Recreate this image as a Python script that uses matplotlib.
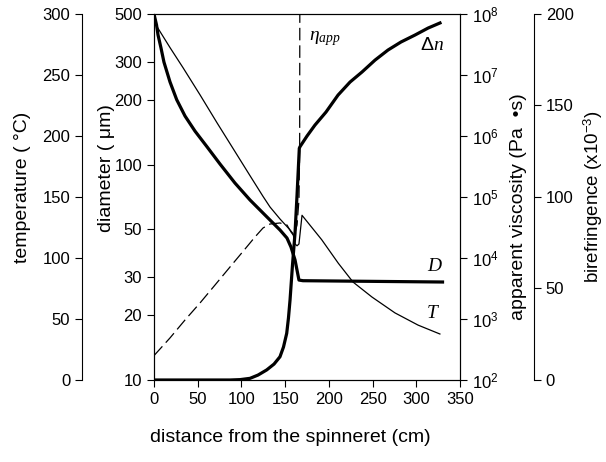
import numpy as np
import matplotlib
matplotlib.use("Agg")
import matplotlib.pyplot as plt
from matplotlib.ticker import NullLocator, FixedLocator, FixedFormatter, LogFormatterMathtext

plt.rcParams['font.family'] = ['Liberation Sans', 'DejaVu Sans']
plt.rcParams['mathtext.fontset'] = 'custom'
plt.rcParams['mathtext.rm'] = 'Liberation Sans'
plt.rcParams['mathtext.it'] = 'Liberation Serif:italic'

# diameter D (um)
dist_D = [0, 2.9, 4.6, 8.0, 11.4, 18.3, 26.0, 35.5, 46.9, 60.6, 75.5, 92.6, 109.8,
          127, 144.1, 152.1, 156.7, 161.3, 165.8, 170.4, 250, 330]
diam = [500, 445, 400, 348, 299, 242, 200, 168, 143, 121, 100.6, 82.1, 68.5,
        58.3, 49.7, 45.6, 41.4, 36.1, 29.1, 28.9, 28.7, 28.5]

# temperature T (C)
dist_T = [0, 3.1, 18.3, 33.2, 52.6, 72.1, 90.4, 109.8, 124.7, 132.7, 144.1, 155.6,
          159, 161.3, 163.6, 165.8, 169.3, 191.8, 210.8, 227.6, 249.3, 275.6, 302, 327]
temp = [297, 290, 272.5, 256, 233.8, 210.8, 189.8, 167.5, 150.5, 141.8, 132, 123,
        120, 111.5, 110, 111.5, 135, 115, 95.7, 80.3, 68, 55, 45, 37.7]

# apparent viscosity (Pa s)
dist_V = [0, 18.3, 35.5, 52.6, 69.8, 86.9, 104.1, 115.5, 124.7, 132.7, 144.1, 152.1,
          156.7, 160.1, 163.6, 165.8, 166.6, 166.8]
visc = [251, 489, 964, 1828, 3606, 7112, 14030, 22080, 31050, 36060, 37500, 34750,
        26670, 22910, 34670, 89130, 5.9e5, 2.0e8]

# birefringence (x10^-3)
dist_B = [0, 87, 98.4, 109.8, 119, 128.9, 137.3, 144.1, 148.1, 151.8, 153.8, 155.6,
          158.4, 161.3, 163.6, 166.2, 167, 175, 184.1, 196.7, 210.5, 224.2, 237.9,
          252.8, 267.6, 282.5, 298.5, 313.4, 327.1]
biref = [0, 0, 0.2, 0.9, 2.7, 5.5, 8.7, 12.7, 18, 25.5, 33.9, 43.7,
         62.8, 80.3, 101, 126.6, 127.5, 133.3, 139.3, 146.4, 155.7, 162.8, 168.3,
         174.8, 180.3, 184.7, 188.5, 192.3, 195.1]

x_ticks = [0, 50, 100, 150, 200, 250, 300, 350]
d_ticks = [10, 20, 30, 50, 100, 200, 300, 500]
t_ticks = [0, 50, 100, 150, 200, 250, 300]
b_ticks = [0, 50, 100, 150, 200]

fig = plt.figure(figsize=(6.06, 4.62), dpi=100)
ax = fig.add_axes([0.2541, 0.1775, 0.505, 0.7922])
ax_v = ax.twinx()
ax_t = ax.twinx()
ax_b = ax.twinx()

tick_kw = dict(direction='out', length=5, width=0.8, labelsize=12, color='black')
lab_fs = 14

# diameter (left, log)
ax.plot(dist_D, diam, color='black', lw=2.3, solid_joinstyle='round')
ax.set_yscale('log')
ax.set_ylim(10, 500)
ax.set_xlim(0, 350)
ax.yaxis.set_major_locator(FixedLocator(d_ticks))
ax.yaxis.set_major_formatter(FixedFormatter([str(v) for v in d_ticks]))
ax.yaxis.set_minor_locator(NullLocator())
ax.set_xticks(x_ticks)
ax.tick_params(axis='both', **tick_kw)
ax.set_xlabel('distance from the spinneret (cm)', fontsize=lab_fs)
ax.xaxis.set_label_coords(0.444, -0.156)
ax.xaxis.label.set_va('center')
ax.set_ylabel('diameter ( μm)', fontsize=lab_fs)
ax.yaxis.set_label_coords(-0.154, 0.579)
ax.yaxis.label.set_va('center')

# viscosity (right, log)
ax_v.plot(dist_V, visc, color='black', lw=0.9, ls=(0, (10, 4)))
ax_v.set_yscale('log')
ax_v.set_ylim(1e2, 1e8)
ax_v.yaxis.set_major_locator(FixedLocator([10.0 ** k for k in range(2, 9)]))
ax_v.yaxis.set_major_formatter(LogFormatterMathtext())
ax_v.yaxis.set_minor_locator(NullLocator())
ax_v.tick_params(axis='y', **tick_kw)
ax_v.set_ylabel('apparent viscosity (Pa  •s)', fontsize=lab_fs)
ax_v.yaxis.set_label_coords(1.19, 0.473)
ax_v.yaxis.label.set_va('center')

# temperature (far left)
ax_t.plot(dist_T, temp, color='black', lw=0.9)
ax_t.set_ylim(0, 300)
ax_t.set_yticks(t_ticks)
ax_t.yaxis.tick_left()
ax_t.yaxis.set_label_position('left')
for s in ['top', 'right', 'bottom']:
    ax_t.spines[s].set_visible(False)
ax_t.spines['left'].set_visible(True)
ax_t.spines['left'].set_position(('axes', -0.2353))
ax_t.tick_params(axis='y', **tick_kw)
ax_t.set_ylabel('temperature ( °C)', fontsize=lab_fs)
ax_t.yaxis.set_label_coords(-0.431, 0.527)
ax_t.yaxis.label.set_va('center')

# birefringence (far right)
ax_b.plot(dist_B, biref, color='black', lw=2.3, solid_joinstyle='round')
ax_b.set_ylim(0, 200)
ax_b.set_yticks(b_ticks)
for s in ['top', 'left', 'bottom']:
    ax_b.spines[s].set_visible(False)
ax_b.spines['right'].set_position(('axes', 1.2418))
ax_b.tick_params(axis='y', **tick_kw)
ax_b.set_ylabel('birefringence (x10$^{-3}$)', fontsize=lab_fs - 0.5)
ax_b.yaxis.set_label_coords(1.435, 0.5)
ax_b.yaxis.label.set_va('center')

for a in [ax, ax_v, ax_t, ax_b]:
    for sp in a.spines.values():
        sp.set_linewidth(0.8)

# curve labels
ax.text(0.559, 0.934, r'$\eta_{app}$', transform=ax.transAxes, fontsize=14,
        ha='center', va='center')
ax.text(0.908, 0.915, r'$\mathit{\Delta n}$', transform=ax.transAxes, fontsize=14,
        ha='center', va='center')
ax.text(0.918, 0.309, r'$D$', transform=ax.transAxes, fontsize=14,
        ha='center', va='center')
ax.text(0.912, 0.183, r'$T$', transform=ax.transAxes, fontsize=14,
        ha='center', va='center')

fig.savefig('out.png', dpi=100)
